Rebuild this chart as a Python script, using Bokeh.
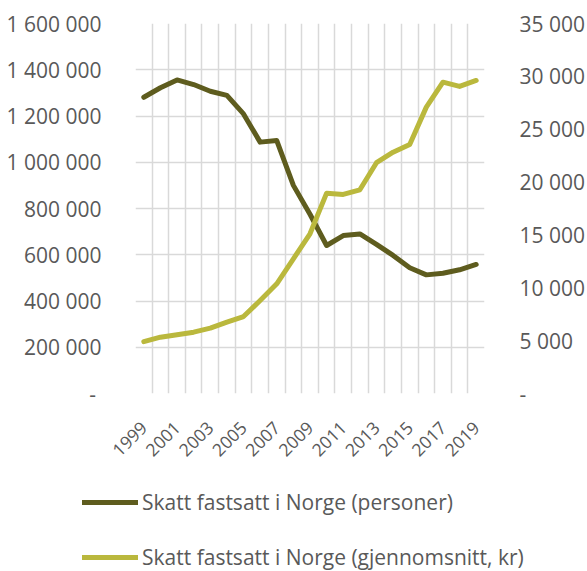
import math
from bokeh.plotting import figure
from bokeh.models import (Range1d, LinearAxis, FixedTicker, CustomJSTickFormatter,
                          Legend, LegendItem, ColumnDataSource)
from bokeh.embed import file_html
from bokeh.resources import INLINE

# ---- data ----
years = list(range(1999, 2020))
personer = [1281000, 1322000, 1356000, 1336000, 1307000, 1289000, 1209000,
            1087000, 1094000, 900000, 775000, 640000, 683000, 690000,
            645000, 597000, 544000, 513000, 520000, 535000, 558000]
snitt_kr = [4900, 5330, 5550, 5800, 6180, 6750, 7280, 8800, 10380, 12740,
            15110, 18950, 18830, 19270, 21830, 22830, 23560, 27090, 29450,
            29050, 29610]
left_ticks = [0, 200000, 400000, 600000, 800000, 1000000, 1200000, 1400000, 1600000]
right_ticks = [0, 5000, 10000, 15000, 20000, 25000, 30000, 35000]
year_ticks = [1999, 2001, 2003, 2005, 2007, 2009, 2011, 2013, 2015, 2017, 2019]
label_personer = "Skatt fastsatt i Norge (personer)"
label_snitt = "Skatt fastsatt i Norge (gjennomsnitt, kr)"

DARK = "#5e5c1e"
LIGHT = "#bab83d"
TXT = "#595959"
GRID = "#d9d9d9"
FONT = "Open Sans"
FS = "21px"

src = ColumnDataSource(dict(year=years, personer=personer, snitt=snitt_kr))

p = figure(width=587, height=470, output_backend="svg", toolbar_location=None,
           x_range=Range1d(years[0] - 0.5, years[-1] + 0.5),
           y_range=Range1d(left_ticks[0], left_ticks[-1]),
           min_border_left=135, min_border_right=96, min_border_top=23,
           min_border_bottom=77)
p.extra_y_ranges = {"kr": Range1d(right_ticks[0], right_ticks[-1])}
p.outline_line_color = None
p.background_fill_color = "white"
p.border_fill_color = "white"

fmt_left = CustomJSTickFormatter(code=r"""
if (tick == 0) { return "-\u00a0"; }
return Math.round(tick).toString().replace(/\B(?=(\d{3})+(?!\d))/g, " ");
""")
fmt_right = CustomJSTickFormatter(code=r"""
if (tick == 0) { return "-"; }
return Math.round(tick).toString().replace(/\B(?=(\d{3})+(?!\d))/g, " ");
""")

def style_axis(ax):
    ax.axis_line_color = None
    ax.major_tick_line_color = None
    ax.minor_tick_line_color = None
    ax.major_label_text_font = FONT
    ax.major_label_text_font_size = FS
    ax.major_label_text_color = TXT

# left axis
p.yaxis.ticker = FixedTicker(ticks=left_ticks)
p.yaxis.formatter = fmt_left
style_axis(p.yaxis[0])
p.yaxis.major_label_standoff = 28

# right axis
ra = LinearAxis(y_range_name="kr", ticker=FixedTicker(ticks=right_ticks), formatter=fmt_right)
style_axis(ra)
ra.major_label_standoff = 29
p.add_layout(ra, "right")

# x axis
p.xaxis.ticker = FixedTicker(ticks=year_ticks)
p.xaxis.formatter = CustomJSTickFormatter(code="return Math.round(tick).toString();")
style_axis(p.xaxis[0])
p.xaxis.major_label_text_font_size = "17.5px"
p.xaxis.major_label_orientation = math.pi / 4
p.xaxis.major_label_standoff = 25

# grids
p.xgrid.ticker = FixedTicker(ticks=[y - 0.5 for y in years] + [years[-1] + 0.5])
p.xgrid.grid_line_color = GRID
p.xgrid.grid_line_width = 1.5
p.ygrid.ticker = FixedTicker(ticks=left_ticks)
p.ygrid.grid_line_color = GRID
p.ygrid.grid_line_width = 1.5

r1 = p.line("year", "personer", source=src, line_color=DARK, line_width=5,
            line_cap="round", line_join="round")
r2 = p.line("year", "snitt", source=src, y_range_name="kr", line_color=LIGHT,
            line_width=5, line_cap="round", line_join="round")

# ---- legend strip below the chart (separate root, no frame alignment) ----
lg = figure(width=587, height=101, output_backend="svg", toolbar_location=None,
            x_range=Range1d(0, 1), y_range=Range1d(0, 1),
            min_border_left=0, min_border_right=0, min_border_top=0,
            min_border_bottom=0, x_axis_type=None, y_axis_type=None)
lg.outline_line_color = None
lg.grid.visible = False
lg.background_fill_color = "white"
lg.border_fill_color = "white"
l1 = lg.line(x=[5, 6], y=[5, 5], line_color=DARK, line_width=5, line_cap="round")
l2 = lg.line(x=[5, 6], y=[5, 5], line_color=LIGHT, line_width=5, line_cap="round")

legend = Legend(items=[LegendItem(label=label_personer, renderers=[l1]),
                       LegendItem(label=label_snitt, renderers=[l2])],
                location=(82, 0), orientation="vertical",
                glyph_width=56, glyph_height=20, label_height=20, spacing=27,
                padding=0, margin=0, border_line_color=None,
                background_fill_alpha=0, label_standoff=4,
                label_text_font=FONT, label_text_font_size="21px",
                label_text_color=TXT)
lg.add_layout(legend)

open("out.html", "w").write(file_html([p, lg], INLINE))
